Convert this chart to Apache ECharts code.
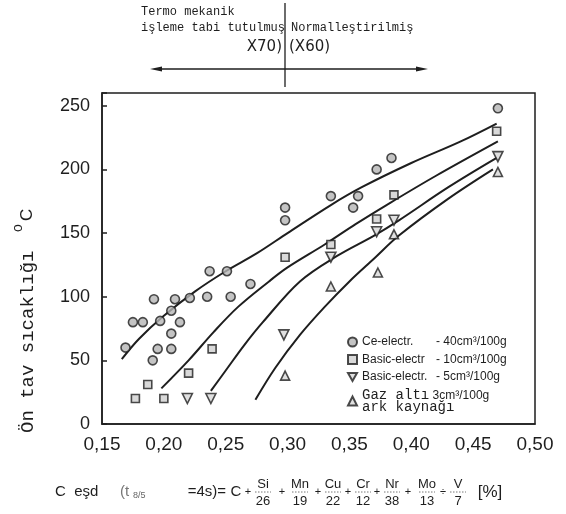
<!DOCTYPE html>
<html>
<head>
<meta charset="utf-8">
<script src="https://cdn.jsdelivr.net/npm/echarts/dist/echarts.min.js"></script>
<style>
  html, body { margin: 0; padding: 0; background: #fff; }
  #chart { width: 566px; height: 514px; }
</style>
</head>
<body>
<div id="chart"></div>
<script>
// Preheat temperature (°C) against carbon equivalent, one array per electrode type
const ceElectr = [
  [0.470, 248], [0.384, 209], [0.372, 200], [0.357, 179], [0.353, 170], [0.335, 179],
  [0.298, 170], [0.298, 160], [0.251, 120], [0.237, 120], [0.270, 110], [0.254, 100],
  [0.235, 100], [0.221, 99], [0.209, 98], [0.192, 98], [0.206, 89], [0.213, 80],
  [0.197, 81], [0.183, 80], [0.175, 80], [0.206, 71], [0.195, 59], [0.206, 59],
  [0.191, 50], [0.169, 60]
];
const basic10 = [
  [0.177, 20], [0.200, 20], [0.187, 31], [0.220, 40], [0.239, 59], [0.298, 131],
  [0.335, 141], [0.372, 161], [0.386, 180], [0.469, 230]
];
const basic5 = [
  [0.219, 20], [0.238, 20], [0.297, 70], [0.335, 131], [0.372, 151], [0.386, 160], [0.470, 210]
];
const gasArc = [
  [0.298, 38], [0.335, 108], [0.373, 119], [0.386, 149], [0.470, 198]
];

// Hand-drawn trend curves through each group
const ceCurve = [
  [0.166, 51], [0.18, 67], [0.20, 85], [0.225, 104], [0.25, 120], [0.275, 134],
  [0.30, 150], [0.335, 172], [0.36, 186], [0.40, 205], [0.44, 222], [0.469, 236]
];
const basic10Curve = [
  [0.198, 28], [0.22, 50], [0.24, 72], [0.26, 92], [0.285, 112], [0.30, 123],
  [0.33, 141], [0.355, 157], [0.38, 172], [0.42, 195], [0.470, 222]
];
const basic5Curve = [
  [0.238, 26], [0.25, 42], [0.265, 62], [0.28, 80], [0.31, 112], [0.34, 132],
  [0.37, 148], [0.39, 160], [0.43, 186], [0.469, 209]
];
const gasCurve = [
  [0.274, 19], [0.29, 44], [0.31, 70], [0.33, 92], [0.35, 112], [0.37, 130],
  [0.39, 148], [0.43, 177], [0.466, 200]
];

const gasLines = ['Gaz altı', 'ark kaynağı'];
const legendNames = ['Ce-electr.', 'Basic-electr', 'Basic-electr.', gasLines.join(' ')];
const hydrogen = ['- 40cm³/100g', '- 10cm³/100g', '- 5cm³/100g', '3cm³/100g'];

const xTicks = { min: 0.15, max: 0.50, step: 0.05 };
const yTicks = { min: 0, max: 260, step: 50 };

const topLeftLines = ['Termo mekanik', 'işleme tabi tutulmuş', 'X70)'];
const topRightLines = ['Normalleştirilmiş', '(X60)'];
const yTitle = ['Ön tav sıcaklığı', 'o', 'C'];

// carbon equivalent formula pieces
const formulaHead = ['C  eşd', '(t', '8/5', '=4s)=', 'C'];
const fracNum = ['Si', 'Mn', 'Cu', 'Cr', 'Nr', 'Mo', 'V'];
const fracDen = ['26', '19', '22', '12', '38', '13', '7'];
const formulaTail = '[%]';

const INK = '#1e1e1e';
const MONO = '"Liberation Mono", "DejaVu Sans Mono", monospace';
const SANS = '"Liberation Sans", Arial, sans-serif';

const chart = echarts.init(document.getElementById('chart'));

function scatter(name, data, symbol, size, fill) {
  return {
    name, type: 'scatter', data, symbol, symbolSize: size, z: 4,
    itemStyle: { color: fill, borderColor: INK, borderWidth: 1.6 }
  };
}
function curve(name, data) {
  return {
    name, type: 'line', data, smooth: 0.35, showSymbol: false, silent: true, z: 3,
    lineStyle: { color: INK, width: 2 }
  };
}

// layout of the formula line
const fracX = [263, 300, 333, 363, 392, 427, 458];
const plusX = [248, 282, 318, 348, 377, 408, 443];
const FY = 492;
const formulaGraphics = [
  { type: 'text', x: 55, y: FY, style: { text: formulaHead[0], font: '15px ' + SANS, fill: INK, verticalAlign: 'middle' } },
  { type: 'text', x: 120, y: FY, style: { text: formulaHead[1], font: '15px ' + SANS, fill: '#777', verticalAlign: 'middle' } },
  { type: 'text', x: 133, y: FY + 4, style: { text: formulaHead[2], font: '9px ' + SANS, fill: '#666', verticalAlign: 'middle' } },
  { type: 'text', x: 226, y: FY, style: { text: formulaHead[3], font: '15px ' + SANS, fill: INK, verticalAlign: 'middle', align: 'right' } },
  { type: 'text', x: 236, y: FY, style: { text: formulaHead[4], font: '15px ' + SANS, fill: INK, verticalAlign: 'middle', align: 'center' } },
  { type: 'text', x: 490, y: FY, style: { text: formulaTail, font: '17px ' + SANS, fill: INK, verticalAlign: 'middle', align: 'center' } }
];
fracNum.forEach((n, i) => {
  formulaGraphics.push(
    { type: 'text', x: fracX[i], y: FY - 8, style: { text: n, font: '13px ' + SANS, fill: INK, align: 'center', verticalAlign: 'middle' } },
    { type: 'text', x: fracX[i], y: FY + 9, style: { text: fracDen[i], font: '13px ' + SANS, fill: INK, align: 'center', verticalAlign: 'middle' } },
    { type: 'line', shape: { x1: fracX[i] - 8, y1: FY, x2: fracX[i] + 8, y2: FY }, style: { stroke: '#555', lineWidth: 0.8, lineDash: [1.5, 1.5] } },
    { type: 'text', x: plusX[i], y: FY, style: { text: i === fracNum.length - 1 ? '÷' : '+', font: '11px ' + SANS, fill: INK, align: 'center', verticalAlign: 'middle' } }
  );
});

chart.setOption({
  animation: false,
  backgroundColor: '#fff',
  grid: { left: 102, right: 31, top: 93, bottom: 90, show: true, borderColor: INK, borderWidth: 1.5 },
  xAxis: {
    type: 'value', min: xTicks.min, max: xTicks.max, interval: xTicks.step,
    axisLine: { lineStyle: { color: INK, width: 1.5 } },
    axisTick: { show: false },
    splitLine: { show: false },
    axisLabel: {
      margin: 11, color: INK, fontSize: 19, fontFamily: SANS,
      formatter: v => v.toFixed(2).replace('.', ',')
    }
  },
  yAxis: {
    type: 'value', min: yTicks.min, max: yTicks.max, interval: yTicks.step,
    axisLine: { show: true, lineStyle: { color: INK, width: 1.5 } },
    axisTick: { show: true, inside: true, length: 5, lineStyle: { color: INK, width: 1.5 } },
    splitLine: { show: false },
    axisLabel: {
      margin: 12, color: INK, fontSize: 18, fontFamily: SANS,
      formatter: v => (v % 50 === 0 ? String(v) : '')
    }
  },
  legend: {
    data: legendNames, orient: 'vertical', left: 347, top: 336, padding: 0,
    itemWidth: 9, itemHeight: 9, itemGap: 5.5, selectedMode: false,
    textStyle: {
      color: INK, fontFamily: SANS, fontSize: 12,
      rich: {
        a: { width: 74, fontSize: 12, fontFamily: SANS, color: INK },
        b: { fontSize: 12, fontFamily: SANS, color: INK },
        g: { fontSize: 14, fontFamily: MONO, color: INK, lineHeight: 11 },
        h: { fontSize: 12, fontFamily: SANS, color: INK }
      }
    },
    formatter: name => {
      const i = legendNames.indexOf(name);
      if (i < 3) return '{a|' + name + '}{b|' + hydrogen[i] + '}';
      return '{g|' + gasLines[0] + '} {h|' + hydrogen[i] + '}\n{g|' + gasLines[1] + '}';
    }
  },
  series: [
    curve('ceCurve', ceCurve),
    curve('basic10Curve', basic10Curve),
    curve('basic5Curve', basic5Curve),
    curve('gasCurve', gasCurve),
    scatter(legendNames[0], ceElectr, 'circle', 9, '#b5b5b5'),
    scatter(legendNames[1], basic10, 'rect', 8, '#cfcfcf'),
    scatter(legendNames[2], basic5, 'path://M0,0 L10,0 L5,9 Z', 10, '#d8d8d8'),
    scatter(legendNames[3], gasArc, 'triangle', 9, '#d8d8d8')
  ],
  graphic: [
    // header notes with divider and double arrow
    { type: 'text', x: 141, y: 12, style: { text: topLeftLines[0], font: '12px ' + MONO, fill: INK, verticalAlign: 'middle' } },
    { type: 'text', x: 141, y: 28, style: { text: topLeftLines[1], font: '12px ' + MONO, fill: INK, verticalAlign: 'middle' } },
    { type: 'text', x: 282, y: 47, style: { text: topLeftLines[2], font: '15px "DejaVu Sans", sans-serif', fill: INK, align: 'right', verticalAlign: 'middle' } },
    { type: 'text', x: 291, y: 28, style: { text: topRightLines[0], font: '12px ' + MONO, fill: INK, verticalAlign: 'middle' } },
    { type: 'text', x: 289, y: 47, style: { text: topRightLines[1], font: '15px "DejaVu Sans", sans-serif', fill: INK, verticalAlign: 'middle' } },
    { type: 'line', shape: { x1: 285, y1: 3, x2: 285, y2: 87 }, style: { stroke: INK, lineWidth: 1.3 } },
    { type: 'line', shape: { x1: 156, y1: 69, x2: 422, y2: 69 }, style: { stroke: INK, lineWidth: 1.3 } },
    { type: 'polygon', shape: { points: [[150, 69], [162, 66.5], [162, 71.5]] }, style: { fill: INK } },
    { type: 'polygon', shape: { points: [[428, 69], [416, 66.5], [416, 71.5]] }, style: { fill: INK } },
    // vertical axis title
    { type: 'text', x: 28, y: 433, rotation: Math.PI / 2, style: { text: yTitle[0], font: '19px ' + MONO, fill: INK, verticalAlign: 'middle' } },
    { type: 'text', x: 18, y: 232, rotation: Math.PI / 2, style: { text: yTitle[1], font: '14px ' + SANS, fill: INK, verticalAlign: 'middle' } },
    { type: 'text', x: 27, y: 221, rotation: Math.PI / 2, style: { text: yTitle[2], font: '17px ' + SANS, fill: INK, verticalAlign: 'middle' } }
  ].concat(formulaGraphics)
});
</script>
</body>
</html>
